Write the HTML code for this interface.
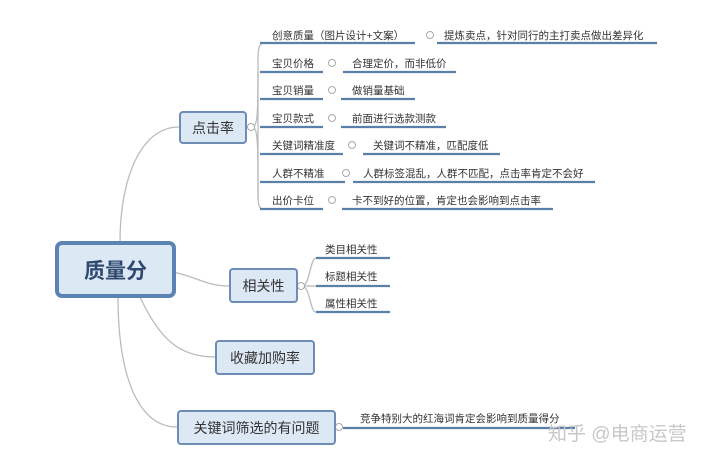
<!DOCTYPE html>
<html><head><meta charset="utf-8"><style>
body{margin:0;background:#fff;}
.w{position:relative;width:720px;height:459px;overflow:hidden;font-family:"Liberation Sans","Noto Sans CJK SC",sans-serif;color:#333;}
.box{position:absolute;background:#dde8f5;border:2px solid #6d8db5;border-radius:4px;display:flex;align-items:center;justify-content:center;box-sizing:border-box;}
.t{position:absolute;font-size:10.5px;white-space:nowrap;color:#333;}
svg{position:absolute;left:0;top:0;}
</style></head><body><div class="w">
<svg width="720" height="459">
<g fill="none" stroke="#bbb" stroke-width="1.3">
<path d="M120 242 C120 180 140 127 179 127"/>
<path d="M150 270 C190 270 200 286 229 286"/>
<path d="M140 297 C160 340 180 357 215 357"/>
<path d="M118 297 C118 380 140 427 177 427"/>
<path d="M252 127 C258 127 258 112 258 60 C258 45 260 43 265 43"/>
<path d="M252 127 C258 127 258 142 258 195 C258 208 260 209 265 209"/>
<path d="M258 72 L258 200"/>
<path d="M302 286 C310 286 310 258 316 258"/>
<path d="M302 286 C310 286 310 312 316 312"/>
<path d="M302 286 L316 286"/>
</g>
<g stroke="#5a7fa8" stroke-width="2.2">
<line x1="260" y1="43" x2="415" y2="43"/><line x1="437" y1="43" x2="657" y2="43"/>
<line x1="260" y1="72" x2="323" y2="72"/><line x1="343" y1="72" x2="456" y2="72"/>
<line x1="260" y1="99" x2="323" y2="99"/><line x1="341" y1="99" x2="415" y2="99"/>
<line x1="260" y1="127" x2="323" y2="127"/><line x1="341" y1="127" x2="446" y2="127"/>
<line x1="260" y1="154" x2="343" y2="154"/><line x1="363" y1="154" x2="500" y2="154"/>
<line x1="260" y1="182" x2="345" y2="182"/><line x1="353" y1="182" x2="595" y2="182"/>
<line x1="260" y1="209" x2="323" y2="209"/><line x1="342" y1="209" x2="553" y2="209"/>
<line x1="316" y1="258" x2="390" y2="258"/><line x1="316" y1="286" x2="390" y2="286"/><line x1="316" y1="312" x2="390" y2="312"/>
<line x1="343" y1="428" x2="575" y2="428"/>
</g>
<g fill="#fff" stroke="#aaa" stroke-width="1">
<circle cx="430" cy="35" r="3.5"/><circle cx="332" cy="63" r="3.5"/><circle cx="332" cy="90" r="3.5"/><circle cx="332" cy="118" r="3.5"/>
<circle cx="352" cy="145" r="3.5"/><circle cx="346" cy="173" r="3.5"/><circle cx="332" cy="200" r="3.5"/>
<circle cx="251" cy="127" r="3.5"/><circle cx="301" cy="286" r="3.5"/><circle cx="339" cy="427" r="3.5"/>
</g>
</svg>
<div class="box" style="left:55px;top:241px;width:121px;height:57px;border:4px solid #5b83b4;border-radius:7px;font-size:21px;font-weight:bold;color:#2f4a6e;">质量分</div>
<div class="box" style="left:179px;top:111px;width:68px;height:33px;font-size:14px;">点击率</div>
<div class="box" style="left:229px;top:268px;width:69px;height:35px;font-size:14px;">相关性</div>
<div class="box" style="left:215px;top:340px;width:100px;height:35px;font-size:14px;">收藏加购率</div>
<div class="box" style="left:177px;top:410px;width:159px;height:35px;font-size:14px;">关键词筛选的有问题</div>
<div class="t" style="left:272px;top:28px;">创意质量（图片设计+文案）</div><div class="t" style="left:444px;top:28px;">提炼卖点，针对同行的主打卖点做出差异化</div>
<div class="t" style="left:272px;top:56px;">宝贝价格</div><div class="t" style="left:352px;top:56px;">合理定价，而非低价</div>
<div class="t" style="left:272px;top:83px;">宝贝销量</div><div class="t" style="left:352px;top:83px;">做销量基础</div>
<div class="t" style="left:272px;top:111px;">宝贝款式</div><div class="t" style="left:352px;top:111px;">前面进行选款测款</div>
<div class="t" style="left:272px;top:138px;">关键词精准度</div><div class="t" style="left:373px;top:138px;">关键词不精准，匹配度低</div>
<div class="t" style="left:272px;top:166px;">人群不精准</div><div class="t" style="left:363px;top:166px;">人群标签混乱，人群不匹配，点击率肯定不会好</div>
<div class="t" style="left:272px;top:193px;">出价卡位</div><div class="t" style="left:352px;top:193px;">卡不到好的位置，肯定也会影响到点击率</div>
<div class="t" style="left:325px;top:242px;">类目相关性</div>
<div class="t" style="left:325px;top:269px;">标题相关性</div>
<div class="t" style="left:325px;top:296px;">属性相关性</div>
<div class="t" style="left:360px;top:411px;">竞争特别大的红海词肯定会影响到质量得分</div>
<div class="t" style="left:548px;top:419px;font-size:19px;color:#c8c8c8;">知乎 @电商运营</div>
</div></body></html>
